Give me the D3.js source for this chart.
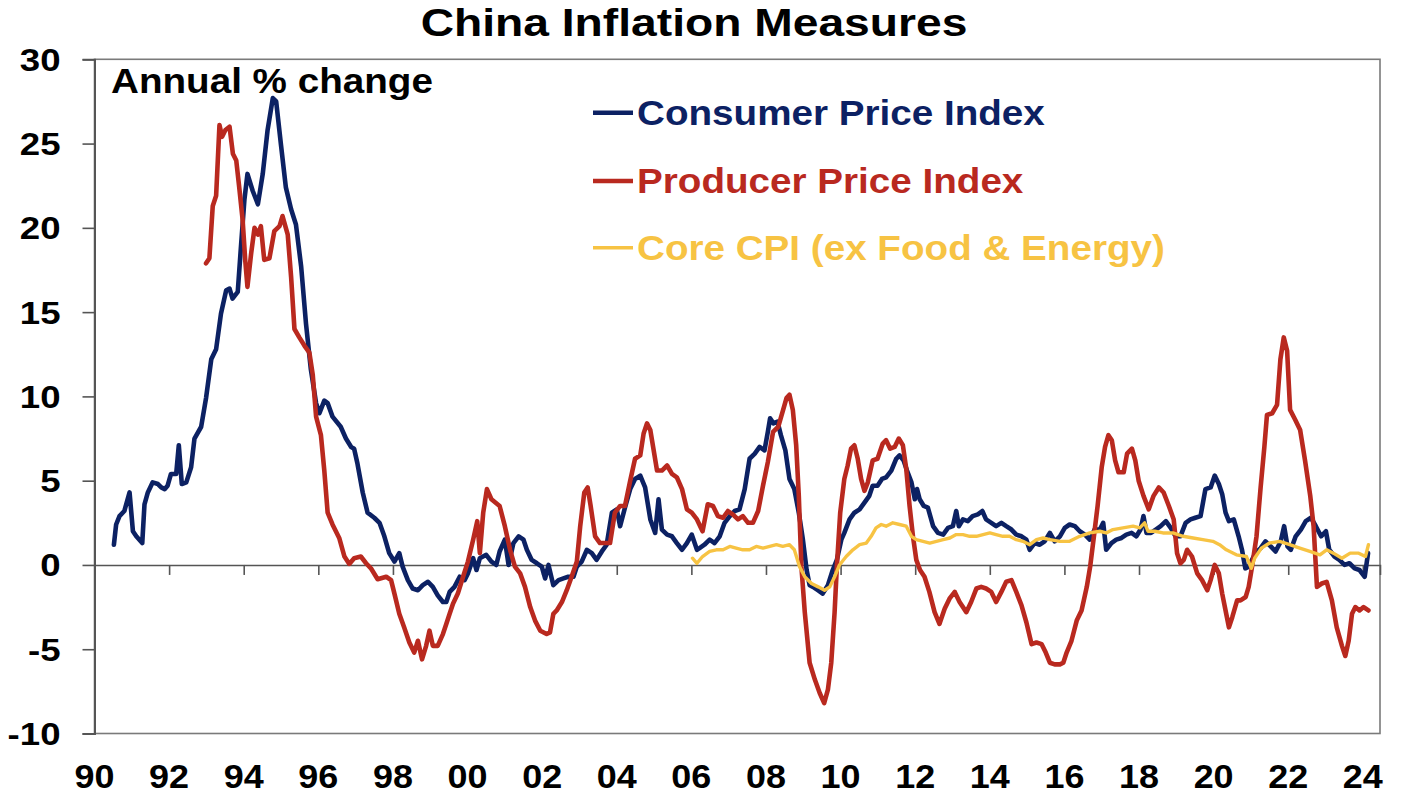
<!DOCTYPE html>
<html><head><meta charset="utf-8">
<script src="https://cdn.jsdelivr.net/npm/d3@7"></script>
<style>
html,body{margin:0;padding:0;background:#fff;}
svg{display:block;}
text{font-family:"Liberation Sans",Arial,Helvetica,sans-serif;font-weight:bold;}
</style>
</head><body>
<svg id="chart" width="1410" height="812"></svg>
<script>
// ---------- data (decimal year, annual % change) ----------
const chartTitle = "China Inflation Measures";
const unitLabel = "Annual % change";
const seriesNames = ["Consumer Price Index", "Producer Price Index", "Core CPI (ex Food & Energy)"];
const seriesColors = ["#0c2163", "#b9291f", "#f7c343"];
const yTickValues = [-10, -5, 0, 5, 10, 15, 20, 25, 30];
const yTickLabels = ["-10", "-5", "0", "5", "10", "15", "20", "25", "30"];
const xTickValues = [1990,1992,1994,1996,1998,2000,2002,2004,2006,2008,2010,2012,2014,2016,2018,2020,2022,2024];
const xTickLabels = ["90","92","94","96","98","00","02","04","06","08","10","12","14","16","18","20","22","24"];

const cpiSeries = [
[1990.52,1.2],[1990.58,2.4],[1990.67,2.9],[1990.8,3.2],[1990.94,4.3],[1991.03,2.0],[1991.12,1.7],[1991.28,1.3],
[1991.34,3.6],[1991.43,4.3],[1991.56,4.9],[1991.7,4.8],[1991.79,4.6],[1991.88,4.5],[1991.96,4.7],[1992.05,5.4],
[1992.19,5.4],[1992.26,7.1],[1992.34,4.8],[1992.46,4.9],[1992.59,5.8],[1992.68,7.5],[1992.86,8.2],[1992.99,9.9],
[1993.13,12.2],[1993.26,12.8],[1993.39,14.9],[1993.53,16.3],[1993.62,16.4],[1993.7,15.8],[1993.84,16.2],[1993.93,19.0],
[1994.02,21.7],[1994.1,23.2],[1994.24,22.2],[1994.38,21.4],[1994.51,23.2],[1994.64,25.8],[1994.78,27.7],[1994.87,27.5],
[1995.0,24.9],[1995.13,22.4],[1995.27,21.1],[1995.4,20.2],[1995.54,17.7],[1995.67,14.3],[1995.8,11.6],[1995.94,9.6],
[1996.03,9.0],[1996.16,9.75],[1996.25,9.6],[1996.38,8.8],[1996.6,8.2],[1996.74,7.5],[1996.88,7.0],[1996.96,6.9],
[1997.05,6.0],[1997.19,4.3],[1997.32,3.1],[1997.5,2.8],[1997.64,2.5],[1997.77,1.7],[1997.9,0.7],[1998.04,0.2],
[1998.17,0.7],[1998.26,-0.1],[1998.4,-0.9],[1998.53,-1.4],[1998.67,-1.5],[1998.8,-1.2],[1998.94,-1.0],[1999.07,-1.3],
[1999.2,-1.8],[1999.34,-2.2],[1999.43,-2.2],[1999.52,-1.6],[1999.65,-1.3],[1999.79,-0.7],[1999.92,-0.9],[2000.01,-0.5],
[2000.15,0.4],[2000.24,-0.3],[2000.33,0.4],[2000.5,0.6],[2000.64,0.2],[2000.77,0.0],[2000.86,0.8],[2001.0,1.5],
[2001.1,0.0],[2001.23,1.3],[2001.37,1.7],[2001.5,1.5],[2001.59,0.9],[2001.72,0.3],[2001.86,0.1],[2001.99,-0.1],
[2002.08,-0.8],[2002.17,0.0],[2002.3,-1.2],[2002.44,-0.9],[2002.57,-0.8],[2002.7,-0.7],[2002.84,-0.7],[2002.93,-0.1],
[2003.06,0.2],[2003.2,0.9],[2003.33,0.7],[2003.46,0.3],[2003.6,0.8],[2003.73,1.2],[2003.87,3.1],[2004.0,3.3],
[2004.09,2.3],[2004.22,3.4],[2004.36,4.5],[2004.49,5.1],[2004.63,5.3],[2004.76,4.6],[2004.9,2.7],[2005.03,1.9],
[2005.12,3.9],[2005.21,2.1],[2005.35,1.8],[2005.48,1.7],[2005.61,1.3],[2005.75,0.9],[2005.88,1.3],[2006.01,1.8],
[2006.15,0.9],[2006.22,1.0],[2006.35,1.2],[2006.49,1.5],[2006.62,1.3],[2006.76,1.7],[2006.89,2.5],[2007.03,2.9],
[2007.16,3.2],[2007.29,3.3],[2007.43,4.5],[2007.56,6.3],[2007.7,6.6],[2007.83,7.0],[2007.96,6.8],[2008.05,7.9],
[2008.11,8.7],[2008.2,8.4],[2008.31,8.5],[2008.4,7.7],[2008.52,6.8],[2008.63,5.1],[2008.76,4.5],[2008.88,3.1],
[2008.99,1.5],[2009.09,-0.3],[2009.17,-1.2],[2009.26,-1.3],[2009.39,-1.5],[2009.52,-1.7],[2009.66,-1.2],[2009.79,-0.3],
[2009.9,0.3],[2010.02,1.5],[2010.1,1.9],[2010.24,2.7],[2010.37,3.1],[2010.51,3.3],[2010.64,3.7],[2010.77,4.1],
[2010.86,4.7],[2010.99,4.7],[2011.11,5.1],[2011.22,5.2],[2011.36,5.6],[2011.49,6.3],[2011.58,6.5],[2011.69,6.2],
[2011.78,5.6],[2011.9,4.9],[2011.99,3.9],[2012.05,4.5],[2012.12,3.9],[2012.23,3.5],[2012.34,3.4],[2012.48,2.3],
[2012.61,1.9],[2012.75,1.8],[2012.88,2.2],[2013.01,2.3],[2013.1,3.2],[2013.17,2.3],[2013.28,2.7],[2013.41,2.6],
[2013.54,2.9],[2013.68,3.0],[2013.8,3.2],[2013.9,2.7],[2014.04,2.5],[2014.17,2.3],[2014.31,2.5],[2014.44,2.3],
[2014.58,2.1],[2014.71,1.8],[2014.85,1.7],[2014.98,1.5],[2015.07,0.9],[2015.2,1.3],[2015.34,1.2],[2015.47,1.4],
[2015.61,1.9],[2015.74,1.4],[2015.88,1.7],[2016.01,2.2],[2016.14,2.4],[2016.28,2.3],[2016.41,2.0],[2016.55,1.8],
[2016.68,1.5],[2016.81,2.1],[2016.95,2.1],[2017.04,2.5],[2017.12,0.9],[2017.26,1.3],[2017.39,1.5],[2017.53,1.6],
[2017.66,1.8],[2017.8,1.9],[2017.93,1.7],[2018.04,2.1],[2018.12,2.9],[2018.2,1.9],[2018.32,1.9],[2018.45,2.1],
[2018.58,2.3],[2018.72,2.6],[2018.85,2.2],[2018.98,1.7],[2019.11,1.7],[2019.25,2.5],[2019.38,2.7],[2019.51,2.8],
[2019.65,2.9],[2019.78,4.5],[2019.92,4.6],[2020.03,5.3],[2020.14,4.8],[2020.23,4.2],[2020.32,3.1],[2020.41,2.6],
[2020.54,2.7],[2020.67,1.7],[2020.76,0.9],[2020.85,-0.2],[2020.94,-0.1],[2021.03,0.3],[2021.12,0.7],[2021.26,1.0],
[2021.39,1.4],[2021.53,1.1],[2021.66,0.8],[2021.8,1.4],[2021.89,2.3],[2021.98,1.1],[2022.07,0.9],[2022.2,1.7],
[2022.34,2.1],[2022.47,2.6],[2022.61,2.8],[2022.74,2.3],[2022.88,1.7],[2023.01,2.0],[2023.1,0.9],[2023.24,0.5],
[2023.37,0.3],[2023.51,0.0],[2023.64,0.1],[2023.78,-0.2],[2023.91,-0.3],[2024.05,-0.7],[2024.14,0.7]
];

const ppiSeries = [
[1992.99,17.9],[1993.08,18.2],[1993.17,21.3],[1993.26,21.9],[1993.35,26.1],[1993.42,25.4],[1993.51,25.8],[1993.62,26.0],
[1993.71,24.4],[1993.8,24.0],[1993.88,22.4],[1993.97,20.5],[1994.04,18.1],[1994.1,16.5],[1994.2,18.5],[1994.29,20.0],
[1994.38,19.6],[1994.46,20.1],[1994.55,18.1],[1994.69,18.2],[1994.82,19.8],[1994.96,20.1],[1995.04,20.7],[1995.18,19.6],
[1995.27,17.1],[1995.36,14.0],[1995.49,13.5],[1995.63,13.0],[1995.76,12.6],[1995.85,11.3],[1995.94,8.8],[1996.07,7.7],
[1996.16,5.6],[1996.25,3.1],[1996.38,2.4],[1996.56,1.6],[1996.7,0.5],[1996.83,0.06],[1996.96,0.4],[1997.14,0.5],
[1997.28,0.1],[1997.41,-0.2],[1997.59,-0.85],[1997.82,-0.7],[1997.95,-0.9],[1998.04,-1.7],[1998.17,-2.9],[1998.3,-3.7],
[1998.44,-4.6],[1998.57,-5.2],[1998.67,-4.5],[1998.78,-5.6],[1998.89,-4.8],[1998.98,-3.9],[1999.07,-4.8],[1999.2,-4.8],
[1999.34,-4.1],[1999.43,-3.5],[1999.52,-2.9],[1999.61,-2.3],[1999.74,-1.7],[1999.88,-0.7],[2000.01,0.2],[2000.15,1.5],
[2000.26,2.6],[2000.33,0.7],[2000.42,3.1],[2000.52,4.5],[2000.64,3.9],[2000.86,3.5],[2001.0,2.3],[2001.14,0.9],
[2001.27,-0.1],[2001.41,-0.5],[2001.54,-1.3],[2001.68,-2.5],[2001.81,-3.3],[2001.95,-3.9],[2002.12,-4.1],[2002.21,-4.0],
[2002.3,-2.9],[2002.39,-2.7],[2002.53,-2.2],[2002.66,-1.5],[2002.79,-0.7],[2002.93,0.2],[2003.02,2.3],[2003.13,4.3],
[2003.22,4.6],[2003.3,3.5],[2003.42,1.7],[2003.55,1.3],[2003.69,1.3],[2003.82,1.3],[2003.95,3.1],[2004.09,3.5],
[2004.22,3.5],[2004.36,5.0],[2004.49,6.3],[2004.63,6.5],[2004.72,7.8],[2004.81,8.4],[2004.9,8.0],[2004.99,6.8],
[2005.08,5.6],[2005.21,5.6],[2005.35,5.9],[2005.48,5.4],[2005.61,5.2],[2005.75,4.5],[2005.88,3.3],[2006.01,3.1],
[2006.15,2.7],[2006.3,2.0],[2006.44,3.6],[2006.58,3.5],[2006.71,2.9],[2006.85,2.8],[2006.98,3.2],[2007.11,3.0],
[2007.25,2.7],[2007.38,2.9],[2007.52,2.5],[2007.65,2.5],[2007.79,3.2],[2007.92,4.7],[2008.05,6.1],[2008.19,7.9],
[2008.33,8.2],[2008.46,9.2],[2008.55,9.9],[2008.63,10.1],[2008.72,9.2],[2008.81,7.1],[2008.88,4.1],[2008.95,-0.1],
[2009.04,-2.8],[2009.17,-5.8],[2009.31,-6.8],[2009.44,-7.6],[2009.56,-8.2],[2009.66,-7.4],[2009.75,-5.8],[2009.84,-2.8],
[2009.9,-0.1],[2009.99,3.1],[2010.1,5.1],[2010.19,5.9],[2010.28,6.9],[2010.37,7.1],[2010.46,6.3],[2010.55,5.1],
[2010.64,4.4],[2010.73,4.9],[2010.86,6.2],[2010.99,6.3],[2011.13,7.2],[2011.22,7.4],[2011.33,6.9],[2011.45,7.0],
[2011.56,7.5],[2011.67,7.1],[2011.76,5.7],[2011.85,3.5],[2011.94,1.7],[2012.03,0.3],[2012.13,-0.3],[2012.25,-0.7],
[2012.38,-1.6],[2012.52,-2.8],[2012.65,-3.5],[2012.79,-2.6],[2012.92,-2.0],[2013.06,-1.6],[2013.19,-2.2],[2013.37,-2.8],
[2013.5,-2.2],[2013.64,-1.4],[2013.77,-1.3],[2013.9,-1.4],[2014.04,-1.6],[2014.17,-2.2],[2014.31,-1.6],[2014.44,-1.0],
[2014.58,-0.9],[2014.71,-1.6],[2014.85,-2.4],[2014.98,-3.4],[2015.12,-4.7],[2015.25,-4.6],[2015.39,-4.7],[2015.5,-5.2],
[2015.61,-5.8],[2015.74,-5.9],[2015.88,-5.9],[2015.97,-5.8],[2016.06,-5.2],[2016.19,-4.5],[2016.33,-3.3],[2016.46,-2.7],
[2016.6,-1.3],[2016.69,-0.1],[2016.78,1.5],[2016.89,3.5],[2017.0,5.8],[2017.09,7.0],[2017.18,7.7],[2017.27,7.4],
[2017.36,6.2],[2017.45,5.5],[2017.59,5.5],[2017.68,6.6],[2017.81,6.9],[2017.9,6.2],[2017.99,5.0],[2018.12,4.1],
[2018.26,3.3],[2018.39,4.1],[2018.53,4.6],[2018.66,4.3],[2018.8,3.5],[2018.93,2.7],[2019.02,0.7],[2019.11,0.1],
[2019.2,0.3],[2019.29,0.9],[2019.42,0.5],[2019.56,-0.5],[2019.69,-0.9],[2019.83,-1.5],[2019.92,-0.9],[2020.03,0.0],
[2020.14,-0.5],[2020.23,-1.7],[2020.32,-2.7],[2020.41,-3.7],[2020.5,-3.1],[2020.63,-2.1],[2020.72,-2.1],[2020.86,-1.9],
[2020.94,-1.3],[2021.03,-0.1],[2021.15,1.7],[2021.26,4.6],[2021.36,7.0],[2021.43,8.9],[2021.57,9.0],[2021.7,9.5],
[2021.79,12.2],[2021.88,13.5],[2021.97,12.7],[2022.05,9.2],[2022.19,8.6],[2022.32,8.0],[2022.45,6.2],[2022.59,4.1],
[2022.68,2.3],[2022.77,-1.3],[2022.9,-1.1],[2023.03,-1.0],[2023.17,-2.1],[2023.3,-3.7],[2023.44,-4.8],[2023.53,-5.4],
[2023.62,-4.5],[2023.71,-2.9],[2023.8,-2.5],[2023.91,-2.7],[2024.02,-2.5],[2024.15,-2.7]
];

const coreSeries = [
[2006.03,0.4],[2006.15,0.1],[2006.3,0.5],[2006.49,0.8],[2006.67,0.9],[2006.85,0.9],[2007.03,1.1],[2007.2,1.0],
[2007.38,0.9],[2007.56,0.9],[2007.74,1.1],[2007.92,1.0],[2008.1,1.1],[2008.28,1.2],[2008.45,1.1],[2008.63,1.2],
[2008.76,0.9],[2008.9,-0.1],[2009.04,-0.7],[2009.22,-1.1],[2009.4,-1.3],[2009.57,-1.5],[2009.71,-1.3],[2009.84,-0.7],
[2009.97,0.0],[2010.15,0.5],[2010.33,0.9],[2010.51,1.2],[2010.69,1.3],[2010.82,1.7],[2010.95,2.2],[2011.09,2.4],
[2011.22,2.3],[2011.4,2.5],[2011.58,2.4],[2011.76,2.3],[2011.9,1.7],[2012.03,1.5],[2012.21,1.4],[2012.39,1.3],
[2012.57,1.4],[2012.75,1.5],[2012.93,1.6],[2013.1,1.8],[2013.28,1.8],[2013.46,1.7],[2013.64,1.7],[2013.82,1.8],
[2014.0,1.9],[2014.17,1.8],[2014.35,1.7],[2014.53,1.7],[2014.71,1.5],[2014.89,1.4],[2015.07,1.2],[2015.25,1.5],
[2015.43,1.6],[2015.61,1.5],[2015.88,1.4],[2016.14,1.4],[2016.41,1.7],[2016.68,1.9],[2016.95,2.0],[2017.12,1.9],
[2017.3,2.1],[2017.57,2.2],[2017.84,2.3],[2018.02,2.2],[2018.15,2.5],[2018.24,2.0],[2018.42,2.0],[2018.64,1.9],
[2018.91,1.9],[2019.18,1.7],[2019.45,1.6],[2019.71,1.5],[2019.98,1.4],[2020.16,1.2],[2020.34,0.9],[2020.61,0.6],
[2020.88,0.5],[2021.01,-0.2],[2021.1,0.4],[2021.28,1.0],[2021.5,1.3],[2021.77,1.4],[2022.04,1.2],[2022.31,1.0],
[2022.58,0.8],[2022.85,0.6],[2023.03,0.9],[2023.21,0.7],[2023.44,0.4],[2023.66,0.7],[2023.89,0.7],[2024.07,0.5],
[2024.15,1.2]
];

// ---------- layout ----------
const plot = {left: 94.5, right: 1380, top: 59.3, bottom: 733.5};
const svg = d3.select("#chart");

const x = d3.scaleLinear().domain([1990, 2024.46]).range([plot.left, plot.right]);
const y = d3.scaleLinear().domain([-10, 30]).range([plot.bottom, plot.top]);

// text drawn with the horizontal stretch seen in the original picture
function stretchedText(g, tx, ty, str, size, sx, anchor, color) {
  return g.append("text")
    .attr("transform", `translate(${tx},${ty}) scale(${sx},1)`)
    .attr("text-anchor", anchor)
    .attr("font-size", size)
    .attr("fill", color || "#000")
    .text(str);
}

// title
stretchedText(svg, 694, 36, chartTitle, 39.5, 1.17, "middle");

// frame
svg.append("rect")
  .attr("x", plot.left).attr("y", plot.top)
  .attr("width", plot.right - plot.left).attr("height", plot.bottom - plot.top)
  .attr("fill", "none").attr("stroke", "#7a7a7a").attr("stroke-width", 1.6);

// y axis
const yAxis = svg.append("g")
  .attr("transform", `translate(${plot.left},0)`)
  .call(d3.axisLeft(y).tickValues(yTickValues).tickSize(12).tickFormat(""));
yAxis.select(".domain").attr("stroke", "#555").attr("stroke-width", 2);
yAxis.selectAll(".tick line").attr("stroke", "#555").attr("stroke-width", 1.6);
yAxis.selectAll(".tick").each(function(d, i) {
  stretchedText(d3.select(this), -34, 11, yTickLabels[i], 30.5, 1.2, "end");
});

// x axis at zero
const xAxis = svg.append("g")
  .attr("transform", `translate(0,${y(0)})`)
  .call(d3.axisBottom(x).tickValues(xTickValues).tickSize(10).tickFormat(""));
xAxis.select(".domain").attr("stroke", "#555").attr("stroke-width", 1.6);
xAxis.selectAll(".tick line").attr("stroke", "#555").attr("stroke-width", 1.6);

// x labels along bottom
const xLab = svg.append("g");
xTickValues.forEach((v, i) => {
  stretchedText(xLab, x(v), 788, xTickLabels[i], 33, 1.09, "middle");
});

// lines
const line = d3.line().x(d => x(d[0])).y(d => y(d[1])).curve(d3.curveLinear);
const allSeries = [cpiSeries, ppiSeries, coreSeries];
const widths = [4.6, 4.6, 3.4];
allSeries.forEach((s, i) => {
  svg.append("path").datum(s)
    .attr("d", line)
    .attr("fill", "none")
    .attr("stroke", seriesColors[i])
    .attr("stroke-width", widths[i])
    .attr("stroke-linejoin", "round")
    .attr("stroke-linecap", "round");
});

// unit label
stretchedText(svg, 111, 93, unitLabel, 34.5, 1.12, "start");

// legend
const legY = [112.7, 181, 247.7];
const leg = svg.append("g");
seriesNames.forEach((n, i) => {
  leg.append("line")
    .attr("x1", 593).attr("x2", 633)
    .attr("y1", legY[i]).attr("y2", legY[i])
    .attr("stroke", seriesColors[i]).attr("stroke-width", i === 2 ? 3.4 : 4.6);
  stretchedText(leg, 637, legY[i] + 12, n, 34.5, 1.12, "start", seriesColors[i]);
});
</script>
</body></html>
